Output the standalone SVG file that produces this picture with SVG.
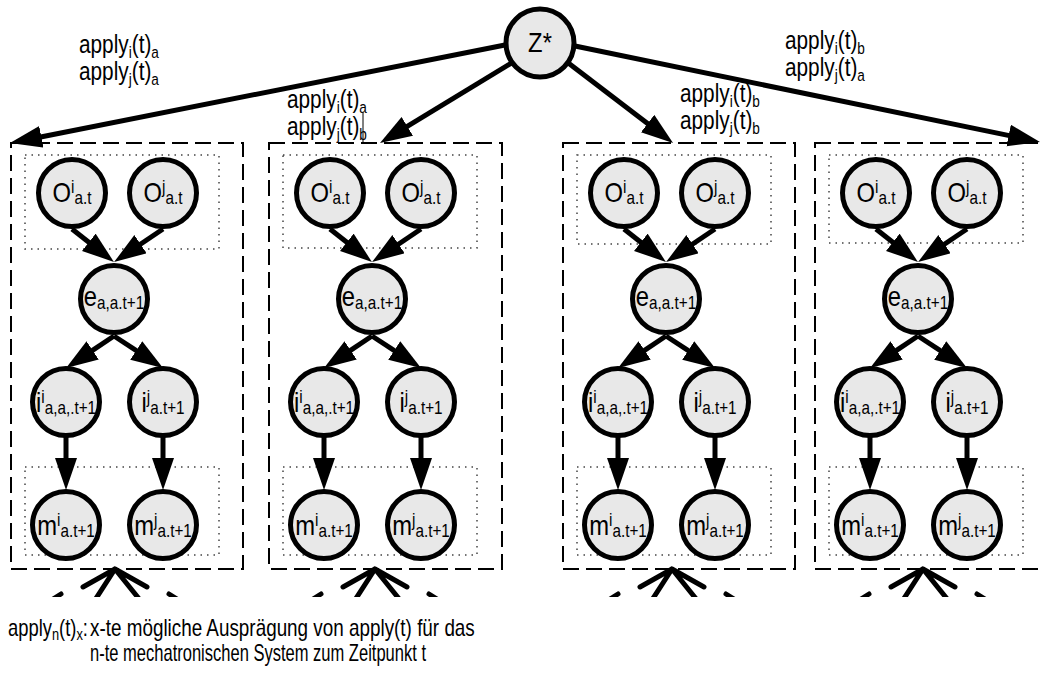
<svg xmlns="http://www.w3.org/2000/svg" width="1040" height="673" viewBox="0 0 1040 673">
  <style>
    .bg { fill: #ffffff; }
    .frame { fill: none; stroke: #000; stroke-width: 2; stroke-dasharray: 16 7; }
    .dots { fill: none; stroke: #444; stroke-width: 1.5; stroke-dasharray: 1.5 5; }
    .node circle { fill: #e8e8e8; stroke: #000; stroke-width: 5; }
    .nt { font-family: "Liberation Sans", Arial, sans-serif; font-size: 28px; fill: #000; text-anchor: middle; }
    .lb { font-family: "Liberation Sans", Arial, sans-serif; font-size: 26px; fill: #000; }
    .ft { font-family: "Liberation Sans", Arial, sans-serif; font-size: 23px; fill: #000; }
    .sb { font-size: 18px; }
    .lb .sb { font-size: 17px; }
    .ft .sb { font-size: 16px; }
    .arr line { stroke: #000; stroke-width: 5; marker-end: url(#ah); }
    .stub { fill: none; stroke: #000; stroke-width: 5; stroke-linecap: round; stroke-linejoin: round; }
  </style>
  <defs>
    <marker id="ah" markerUnits="userSpaceOnUse" markerWidth="34" markerHeight="24" refX="2" refY="11" orient="auto">
      <path d="M0,0 L32,11 L0,22 Z" fill="#000"/>
    </marker>
    <clipPath id="cut">
      <rect x="0" y="560" width="1040" height="37"/>
    </clipPath>
  </defs>

  <rect class="bg" x="0" y="0" width="1040" height="673"/>

  <!-- system frames (dashed) and grouped observation / measurement areas (dotted) -->
  <g id="frames">
    <rect class="frame" x="11" y="143" width="232" height="426"/>
    <rect class="frame" x="269" y="143" width="233" height="426"/>
    <rect class="frame" x="563" y="143" width="232" height="426"/>
    <rect class="frame" x="815" y="143" width="232" height="426"/>
    <rect class="dots" x="25" y="155" width="194" height="94"/>
    <rect class="dots" x="25" y="467" width="194" height="88"/>
    <rect class="dots" x="283" y="155" width="194" height="93"/>
    <rect class="dots" x="283" y="467" width="194" height="88"/>
    <rect class="dots" x="577" y="155" width="194" height="89"/>
    <rect class="dots" x="577" y="467" width="194" height="88"/>
    <rect class="dots" x="829" y="155" width="194" height="88"/>
    <rect class="dots" x="829" y="467" width="194" height="88"/>
    <line x1="363" y1="112" x2="363" y2="143" stroke="#000" stroke-width="1"/>
  </g>

  <!-- edge labels -->
  <g id="labels">
    <text class="lb" transform="translate(79 53) scale(0.8 1)">
      <tspan x="0" y="0">apply</tspan><tspan class="sb" dy="5">i</tspan><tspan dy="-5">(t)</tspan><tspan class="sb" dy="5">a</tspan>
      <tspan x="0" y="27">apply</tspan><tspan class="sb" dy="5">j</tspan><tspan dy="-5">(t)</tspan><tspan class="sb" dy="5">a</tspan>
    </text>
    <text class="lb" transform="translate(287 108) scale(0.8 1)">
      <tspan x="0" y="0">apply</tspan><tspan class="sb" dy="5">i</tspan><tspan dy="-5">(t)</tspan><tspan class="sb" dy="5">a</tspan>
      <tspan x="0" y="27">apply</tspan><tspan class="sb" dy="5">j</tspan><tspan dy="-5">(t)</tspan><tspan class="sb" dy="5">b</tspan>
    </text>
    <text class="lb" transform="translate(680 102) scale(0.8 1)">
      <tspan x="0" y="0">apply</tspan><tspan class="sb" dy="5">i</tspan><tspan dy="-5">(t)</tspan><tspan class="sb" dy="5">b</tspan>
      <tspan x="0" y="27">apply</tspan><tspan class="sb" dy="5">j</tspan><tspan dy="-5">(t)</tspan><tspan class="sb" dy="5">b</tspan>
    </text>
    <text class="lb" transform="translate(785 49) scale(0.8 1)">
      <tspan x="0" y="0">apply</tspan><tspan class="sb" dy="5">i</tspan><tspan dy="-5">(t)</tspan><tspan class="sb" dy="5">b</tspan>
      <tspan x="0" y="27">apply</tspan><tspan class="sb" dy="5">j</tspan><tspan dy="-5">(t)</tspan><tspan class="sb" dy="5">a</tspan>
    </text>
  </g>

  <!-- connectors -->
  <g id="connectors" class="arr">
    <line x1="505" y1="45" x2="39.4" y2="137.2"/>
    <line x1="513" y1="62" x2="405.6" y2="127.4"/>
    <line x1="567" y1="62" x2="649.2" y2="124.8"/>
    <line x1="575" y1="46" x2="1010.6" y2="135.9"/>

    <line x1="72" y1="229" x2="90.4" y2="243.5"/>
    <line x1="163" y1="229" x2="138.9" y2="245.3"/>
    <line x1="114" y1="336" x2="91" y2="351.4"/>
    <line x1="114" y1="336" x2="137.9" y2="351.6"/>
    <line x1="66" y1="437" x2="66" y2="460"/>
    <line x1="163" y1="437" x2="163" y2="460"/>

    <line x1="330" y1="229" x2="348.4" y2="243.5"/>
    <line x1="421" y1="229" x2="396.9" y2="245.3"/>
    <line x1="372" y1="336" x2="349" y2="351.4"/>
    <line x1="372" y1="336" x2="395.9" y2="351.6"/>
    <line x1="324" y1="437" x2="324" y2="460"/>
    <line x1="421" y1="437" x2="421" y2="460"/>

    <line x1="624" y1="229" x2="642.4" y2="243.5"/>
    <line x1="715" y1="229" x2="690.9" y2="245.3"/>
    <line x1="666" y1="336" x2="643" y2="351.4"/>
    <line x1="666" y1="336" x2="689.9" y2="351.6"/>
    <line x1="618" y1="437" x2="618" y2="460"/>
    <line x1="715" y1="437" x2="715" y2="460"/>

    <line x1="876" y1="229" x2="894.4" y2="243.5"/>
    <line x1="967" y1="229" x2="942.9" y2="245.3"/>
    <line x1="918" y1="336" x2="895" y2="351.4"/>
    <line x1="918" y1="336" x2="941.9" y2="351.6"/>
    <line x1="870" y1="437" x2="870" y2="460"/>
    <line x1="967" y1="437" x2="967" y2="460"/>

    <!-- incoming edges from the next time slice, cut at the lower border -->
    <g clip-path="url(#cut)">
      <path class="stub" d="M83,587 L115,569 L147,587 M95,600 L115,569 L140,600 M53,599 L61,594 M169,594 L177,599"/>
      <path class="stub" d="M343,587 L375,569 L407,587 M355,600 L375,569 L400,600 M313,599 L321,594 M429,594 L437,599"/>
      <path class="stub" d="M640,587 L672,569 L704,587 M652,600 L672,569 L697,600 M610,599 L618,594 M726,594 L734,599"/>
      <path class="stub" d="M891,587 L923,569 L955,587 M903,600 L923,569 L948,600 M861,599 L869,594 M977,594 L985,599"/>
    </g>
  </g>

  <!-- nodes -->
  <g id="z" class="node" transform="translate(540 43)">
    <circle r="34"/>
    <text class="nt" y="9" transform="scale(0.85 1)">Z*</text>
  </g>

  <g id="s1-oi" class="node" transform="translate(72 193)"><circle r="33.5"/><text class="nt" y="9" transform="scale(0.85 1)">O<tspan class="sb" dy="-9">i</tspan><tspan class="sb" dy="11">a.t</tspan></text></g>
  <g id="s1-oj" class="node" transform="translate(163 193)"><circle r="33.5"/><text class="nt" y="9" transform="scale(0.85 1)">O<tspan class="sb" dy="-9">j</tspan><tspan class="sb" dy="11">a.t</tspan></text></g>
  <g id="s1-e" class="node" transform="translate(114 299)"><circle r="33.5"/><text class="nt" y="7" transform="scale(0.85 1)">e<tspan class="sb" dy="3">a,a.t+1</tspan></text></g>
  <g id="s1-ii" class="node" transform="translate(66 402)"><circle r="33.5"/><text class="nt" y="10" transform="scale(0.85 1)">i<tspan class="sb" dy="-9">i</tspan><tspan class="sb" dy="11">a,a,.t+1</tspan></text></g>
  <g id="s1-ij" class="node" transform="translate(163 402)"><circle r="33.5"/><text class="nt" y="10" transform="scale(0.85 1)">i<tspan class="sb" dy="-9">j</tspan><tspan class="sb" dy="11">a.t+1</tspan></text></g>
  <g id="s1-mi" class="node" transform="translate(66 525)"><circle r="33.5"/><text class="nt" y="10" transform="scale(0.85 1)">m<tspan class="sb" dy="-9">i</tspan><tspan class="sb" dy="11">a.t+1</tspan></text></g>
  <g id="s1-mj" class="node" transform="translate(163 525)"><circle r="33.5"/><text class="nt" y="10" transform="scale(0.85 1)">m<tspan class="sb" dy="-9">j</tspan><tspan class="sb" dy="11">a.t+1</tspan></text></g>

  <g id="s2-oi" class="node" transform="translate(330 193)"><circle r="33.5"/><text class="nt" y="9" transform="scale(0.85 1)">O<tspan class="sb" dy="-9">i</tspan><tspan class="sb" dy="11">a.t</tspan></text></g>
  <g id="s2-oj" class="node" transform="translate(421 193)"><circle r="33.5"/><text class="nt" y="9" transform="scale(0.85 1)">O<tspan class="sb" dy="-9">j</tspan><tspan class="sb" dy="11">a.t</tspan></text></g>
  <g id="s2-e" class="node" transform="translate(372 299)"><circle r="33.5"/><text class="nt" y="7" transform="scale(0.85 1)">e<tspan class="sb" dy="3">a,a.t+1</tspan></text></g>
  <g id="s2-ii" class="node" transform="translate(324 402)"><circle r="33.5"/><text class="nt" y="10" transform="scale(0.85 1)">i<tspan class="sb" dy="-9">i</tspan><tspan class="sb" dy="11">a,a,.t+1</tspan></text></g>
  <g id="s2-ij" class="node" transform="translate(421 402)"><circle r="33.5"/><text class="nt" y="10" transform="scale(0.85 1)">i<tspan class="sb" dy="-9">j</tspan><tspan class="sb" dy="11">a.t+1</tspan></text></g>
  <g id="s2-mi" class="node" transform="translate(324 525)"><circle r="33.5"/><text class="nt" y="10" transform="scale(0.85 1)">m<tspan class="sb" dy="-9">i</tspan><tspan class="sb" dy="11">a.t+1</tspan></text></g>
  <g id="s2-mj" class="node" transform="translate(421 525)"><circle r="33.5"/><text class="nt" y="10" transform="scale(0.85 1)">m<tspan class="sb" dy="-9">j</tspan><tspan class="sb" dy="11">a.t+1</tspan></text></g>

  <g id="s3-oi" class="node" transform="translate(624 193)"><circle r="33.5"/><text class="nt" y="9" transform="scale(0.85 1)">O<tspan class="sb" dy="-9">i</tspan><tspan class="sb" dy="11">a.t</tspan></text></g>
  <g id="s3-oj" class="node" transform="translate(715 193)"><circle r="33.5"/><text class="nt" y="9" transform="scale(0.85 1)">O<tspan class="sb" dy="-9">j</tspan><tspan class="sb" dy="11">a.t</tspan></text></g>
  <g id="s3-e" class="node" transform="translate(666 299)"><circle r="33.5"/><text class="nt" y="7" transform="scale(0.85 1)">e<tspan class="sb" dy="3">a,a.t+1</tspan></text></g>
  <g id="s3-ii" class="node" transform="translate(618 402)"><circle r="33.5"/><text class="nt" y="10" transform="scale(0.85 1)">i<tspan class="sb" dy="-9">i</tspan><tspan class="sb" dy="11">a,a,.t+1</tspan></text></g>
  <g id="s3-ij" class="node" transform="translate(715 402)"><circle r="33.5"/><text class="nt" y="10" transform="scale(0.85 1)">i<tspan class="sb" dy="-9">j</tspan><tspan class="sb" dy="11">a.t+1</tspan></text></g>
  <g id="s3-mi" class="node" transform="translate(618 525)"><circle r="33.5"/><text class="nt" y="10" transform="scale(0.85 1)">m<tspan class="sb" dy="-9">i</tspan><tspan class="sb" dy="11">a.t+1</tspan></text></g>
  <g id="s3-mj" class="node" transform="translate(715 525)"><circle r="33.5"/><text class="nt" y="10" transform="scale(0.85 1)">m<tspan class="sb" dy="-9">j</tspan><tspan class="sb" dy="11">a.t+1</tspan></text></g>

  <g id="s4-oi" class="node" transform="translate(876 193)"><circle r="33.5"/><text class="nt" y="9" transform="scale(0.85 1)">O<tspan class="sb" dy="-9">i</tspan><tspan class="sb" dy="11">a.t</tspan></text></g>
  <g id="s4-oj" class="node" transform="translate(967 193)"><circle r="33.5"/><text class="nt" y="9" transform="scale(0.85 1)">O<tspan class="sb" dy="-9">j</tspan><tspan class="sb" dy="11">a.t</tspan></text></g>
  <g id="s4-e" class="node" transform="translate(918 299)"><circle r="33.5"/><text class="nt" y="7" transform="scale(0.85 1)">e<tspan class="sb" dy="3">a,a.t+1</tspan></text></g>
  <g id="s4-ii" class="node" transform="translate(870 402)"><circle r="33.5"/><text class="nt" y="10" transform="scale(0.85 1)">i<tspan class="sb" dy="-9">i</tspan><tspan class="sb" dy="11">a,a,.t+1</tspan></text></g>
  <g id="s4-ij" class="node" transform="translate(967 402)"><circle r="33.5"/><text class="nt" y="10" transform="scale(0.85 1)">i<tspan class="sb" dy="-9">j</tspan><tspan class="sb" dy="11">a.t+1</tspan></text></g>
  <g id="s4-mi" class="node" transform="translate(870 525)"><circle r="33.5"/><text class="nt" y="10" transform="scale(0.85 1)">m<tspan class="sb" dy="-9">i</tspan><tspan class="sb" dy="11">a.t+1</tspan></text></g>
  <g id="s4-mj" class="node" transform="translate(967 525)"><circle r="33.5"/><text class="nt" y="10" transform="scale(0.85 1)">m<tspan class="sb" dy="-9">j</tspan><tspan class="sb" dy="11">a.t+1</tspan></text></g>

  <!-- legend -->
  <g id="legend">
    <text class="ft" transform="translate(8 636) scale(0.8 1)">apply<tspan class="sb" dy="4">n</tspan><tspan dy="-4">(t)</tspan><tspan class="sb" dy="4">x</tspan><tspan dy="-4">:</tspan></text>
    <text class="ft" transform="translate(90 636) scale(0.8 1)" textLength="481" lengthAdjust="spacingAndGlyphs">x-te mögliche Ausprägung von apply(t) für das</text>
    <text class="ft" transform="translate(90 661) scale(0.8 1)" textLength="420" lengthAdjust="spacingAndGlyphs">n-te mechatronischen System zum Zeitpunkt t</text>
  </g>
</svg>
